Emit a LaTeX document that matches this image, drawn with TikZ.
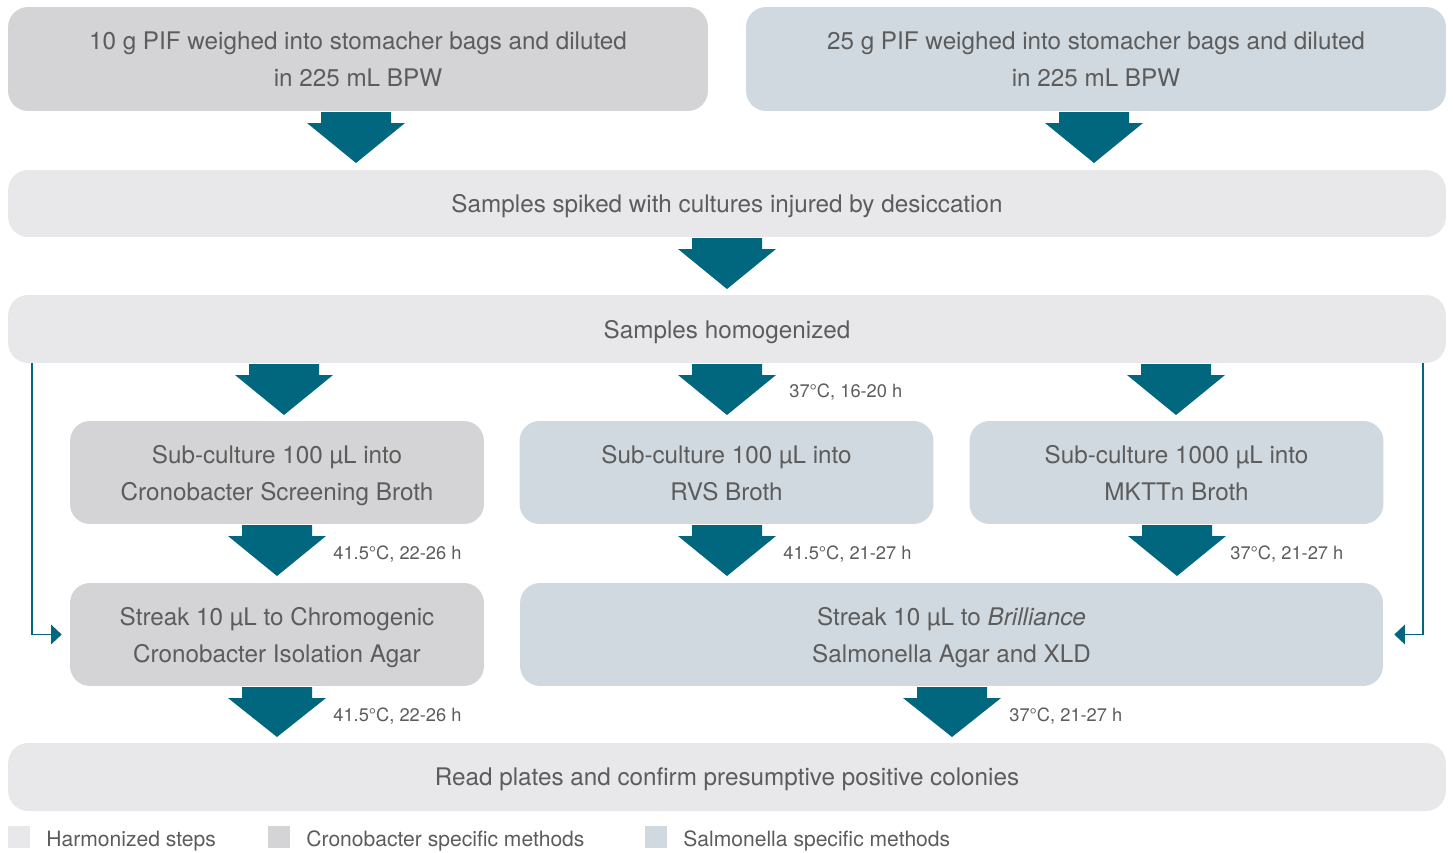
\documentclass[tikz,border=0pt]{standalone}
\usepackage{fontspec}
\setmainfont{TeX Gyre Heros}
\usetikzlibrary{arrows.meta,calc}
\definecolor{txt}{HTML}{5C5C5C}
\definecolor{harm}{HTML}{E8E8EA}
\definecolor{cron}{HTML}{D4D4D6}
\definecolor{salm}{HTML}{D0D9E0}
\definecolor{teal}{HTML}{00677F}
\newcommand\blockarrow[3]{%
  \fill[teal] (#1-35,#2) -- (#1+35,#2) -- (#1+35,#2+11) -- (#1+49,#2+11) -- (#1,#3) -- (#1-49,#2+11) -- (#1-35,#2+11) -- cycle;}
\begin{document}
\begin{tikzpicture}[x=0.02cm,y=-0.02cm,
  box/.style={rounded corners=0.4cm, inner sep=0pt, align=center, text=txt, text depth=0pt,
    font=\fontsize{13.8}{21}\selectfont},
  hbox/.style={box, fill=harm},
  cbox/.style={box, fill=cron},
  sbox/.style={box, fill=salm},
  lbl/.style={text=txt, font=\fontsize{10.4}{12}\selectfont, anchor=west, inner sep=0pt, text depth=0pt},
  leg/.style={text=txt, font=\fontsize{12}{14}\selectfont, anchor=west, inner sep=0pt, text depth=0pt},
  side/.style={draw=teal, line width=1.1pt, -{Triangle[length=6pt,width=11pt]}}
]
\useasboundingbox (0,0) rectangle (1453,852);
% top boxes
\node[cbox, minimum width=14cm, minimum height=2.08cm] (b1) at (358,59) {10 g PIF weighed into stomacher bags and diluted\\in 225 mL BPW};
\node[sbox, minimum width=14cm, minimum height=2.08cm] (b2) at (1096,59) {25 g PIF weighed into stomacher bags and diluted\\in 225 mL BPW};
\blockarrow{356}{112}{163}
\blockarrow{1094}{112}{163}
% spiked
\node[hbox, minimum width=28.76cm, minimum height=1.34cm] (spk) at (727,203.5) {Samples spiked with cultures injured by desiccation};
\blockarrow{727}{238}{289}
% homogenized
\node[hbox, minimum width=28.76cm, minimum height=1.36cm] (hom) at (727,329) {Samples homogenized};
\blockarrow{284}{364}{415}
\blockarrow{727}{364}{415}
\blockarrow{1176}{364}{415}
\node[lbl] (t1) at (789,391) {37°C, 16-20 h};
% row 3
\node[cbox, minimum width=8.28cm, minimum height=2.06cm] (c3) at (277,472.5) {Sub-culture 100 µL into\\Cronobacter Screening Broth};
\node[sbox, minimum width=8.28cm, minimum height=2.06cm] (r3) at (726.5,472.5) {Sub-culture 100 µL into\\RVS Broth};
\node[sbox, minimum width=8.28cm, minimum height=2.06cm] (m3) at (1176.5,472.5) {Sub-culture 1000 µL into\\MKTTn Broth};
\blockarrow{277}{525}{576}
\blockarrow{727}{525}{576}
\blockarrow{1177}{525}{576}
\node[lbl] (t2) at (333,553) {41.5°C, 22-26 h};
\node[lbl] (t3) at (783,553) {41.5°C, 21-27 h};
\node[lbl] (t4) at (1230,553) {37°C, 21-27 h};
% row 4
\node[cbox, minimum width=8.28cm, minimum height=2.06cm] (c4) at (277,634.5) {Streak 10 µL to Chromogenic\\Cronobacter Isolation Agar};
\node[sbox, minimum width=17.26cm, minimum height=2.06cm] (s4) at (951.5,634.5) {Streak 10 µL to \textit{Brilliance}\\Salmonella Agar and XLD};
\blockarrow{277}{687}{737}
\blockarrow{952}{687}{737}
\node[lbl] (t5) at (333,715) {41.5°C, 22-26 h};
\node[lbl] (t6) at (1009,715) {37°C, 21-27 h};
% final
\node[hbox, minimum width=28.76cm, minimum height=1.36cm] (fin) at (727,777) {Read plates and confirm presumptive positive colonies};
% side connectors
\draw[side] ([xshift=0.48cm]hom.south west) |- ([xshift=-0.16cm]c4.west);
\draw[side] ([xshift=-0.46cm]hom.south east) |- ([xshift=0.22cm]s4.east);
% legend
\fill[harm] (8,826) rectangle (30,848);
\node[leg] (l1) at (46,839) {Harmonized steps};
\fill[cron] (268,826) rectangle (290,848);
\node[leg] (l2) at (306,839) {Cronobacter specific methods};
\fill[salm] (645,826) rectangle (667,848);
\node[leg] (l3) at (683,839) {Salmonella specific methods};
\end{tikzpicture}
\end{document}
